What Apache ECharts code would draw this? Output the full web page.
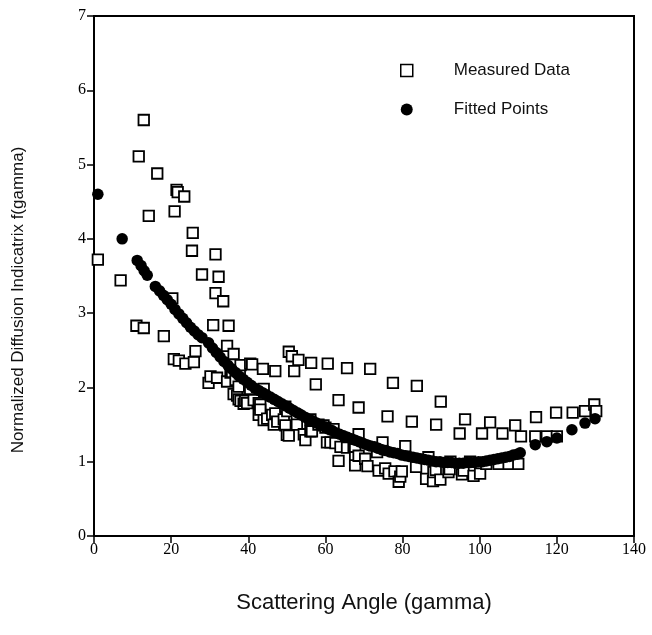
<!DOCTYPE html>
<html><head><meta charset="utf-8">
<script src="https://cdn.jsdelivr.net/npm/echarts@6/dist/echarts.min.js"></script>
<style>html,body{margin:0;padding:0;background:#fff}#c{width:652px;height:635px}</style>
</head><body><div id="c"></div>
<script>
const xTicks = [0,20,40,60,80,100,120,140];
const yTicks = [0,1,2,3,4,5,6,7];
const seriesNames = ['Measured Data','Fitted Points'];
const xTitle = 'Scattering Angle (gamma)';
const yTitle = 'Normalized Diffusion Indicatrix f(gamma)';

const measured = [
[1.0,3.72],[6.9,3.44],[11,2.83],[11.6,5.11],[12.9,5.6],[12.9,2.8],[14.2,4.31],[16.4,4.88],[18.1,2.69],[20.3,3.2],
[20.7,2.38],[20.9,4.37],[21.4,4.66],[21.7,4.63],[22,2.36],[23.4,4.57],[23.7,2.32],[25.4,3.84],[25.6,4.08],[25.9,2.34],
[26.3,2.49],[28,3.52],[29.7,2.06],[30.2,2.15],[30.9,2.84],[31.5,3.79],[31.5,3.27],[31.9,2.13],[32.3,3.49],[33.5,3.16],
[34.5,2.08],[34.5,2.56],[34.9,2.83],[35.4,2.2],[35.8,2.21],[36.2,2.45],[36.2,1.91],[36.7,2.1],[37.1,1.89],[37.5,2.01],
[37.5,1.84],[37.8,2.19],[38,2.3],[38,1.82],[38.8,1.78],[39.2,1.82],[39.7,1.79],[40.5,1.98],[40.5,2.32],[41,2.31],
[41.4,1.83],[42.7,1.63],[42.7,1.79],[43.1,1.77],[43.1,1.7],[43.8,2.25],[44,1.98],[44,1.56],[44.9,1.58],[46.2,1.63],
[46.6,1.5],[47,2.22],[47,1.65],[47.5,1.54],[49.2,1.57],[49.6,1.74],[49.6,1.49],[50.1,1.68],[50,1.36],[50.5,2.48],
[50.5,1.35],[51.3,2.42],[51.9,2.22],[52.6,1.62],[52.6,1.5],[53,2.37],[54.4,1.37],[54.8,1.29],[56.1,1.57],[56.1,1.41],
[56.3,2.33],[56.5,1.41],[57.5,2.04],[58.2,1.5],[59.5,1.49],[60,1.46],[60.4,1.26],[60.6,2.32],[61.3,1.26],[62.1,1.44],
[62.6,1.25],[63.4,1.83],[63.4,1.01],[63.9,1.2],[65.6,2.26],[65.6,1.19],[67.3,1.21],[67.7,1.17],[67.7,1.06],[67.7,0.95],
[68.6,1.73],[68.6,1.37],[68.6,1.08],[70.3,1.04],[70.9,0.94],[71.6,2.25],[73.4,1.13],[73.8,0.88],[74.8,1.26],[75.5,0.91],
[76.1,1.61],[76.4,0.84],[77.5,2.06],[77.9,0.87],[79,0.73],[79.4,0.8],[79.8,0.87],[80.7,1.21],[82.4,1.54],[83.5,0.93],
[83.7,2.02],[86.1,0.77],[86.7,1.06],[87.9,0.74],[88,0.86],[88.6,0.89],[88.7,1.5],[89.8,0.76],[89.9,1.81],[91.9,0.86],
[92.2,0.9],[92.4,1.0],[94.8,1.38],[95.4,0.83],[95.8,0.88],[96.2,1.57],[97.5,1.0],[98.4,0.81],[100.1,0.84],[100.6,1.38],
[101.7,0.97],[102.7,1.53],[104.9,0.97],[105.9,1.38],[107.5,0.97],[109.2,1.49],[110,0.97],[110.7,1.34],[114.4,1.34],[114.6,1.6],
[117.4,1.34],[119.8,1.66],[120,1.34],[124.1,1.66],[127.3,1.68],[129.7,1.77],[130.2,1.68]
];

const fitted = [
[1,4.6],[7.3,4.0],[11.2,3.71],[12.2,3.64],[13,3.57],[13.8,3.51],[15.9,3.36],[17,3.3],[18,3.24],[19,3.18],
[20,3.12],[21,3.05],[22,2.99],[23,2.93],[24,2.87],[25,2.81],[26,2.76],[27,2.71],[28,2.67],[29.7,2.6],
[30.7,2.53],[31.7,2.47],[32.7,2.41],[33.7,2.35],[34.7,2.3],[35.7,2.25],[36.7,2.2],[37.7,2.15],[38.7,2.11],[39.7,2.07],
[40.7,2.03],[41.7,1.99],[42.7,1.96],[43.7,1.93],[44.7,1.9],[45.7,1.87],[46.7,1.84],[47.7,1.81],[48.7,1.78],[49.7,1.75],
[50.7,1.72],[51.7,1.69],[52.7,1.66],[53.7,1.63],[54.7,1.6],[55.7,1.57],[56.7,1.55],[57.7,1.52],[58.7,1.49],[59.7,1.47],
[60.7,1.44],[61.7,1.42],[62.7,1.39],[63.7,1.37],[64.7,1.35],[65.7,1.33],[66.7,1.31],[67.7,1.29],[68.7,1.27],[69.7,1.25],
[70.7,1.23],[71.7,1.21],[72.7,1.2],[73.7,1.18],[74.7,1.16],[75.7,1.15],[76.7,1.13],[77.7,1.12],[78.7,1.11],[79.7,1.09],
[80.7,1.08],[81.7,1.07],[82.7,1.06],[83.7,1.05],[84.7,1.04],[85.7,1.03],[86.7,1.02],[87.7,1.01],[88.7,1.0],[89.7,1.0],
[90.7,0.99],[91.7,0.99],[92.7,0.99],[93.7,0.98],[94.7,0.98],[95.7,0.98],[96.7,0.99],[97.7,0.99],[98.7,0.99],[99.7,1.0],
[100.7,1.0],[101.7,1.01],[102.7,1.02],[103.7,1.03],[104.7,1.04],[105.7,1.05],[106.7,1.06],[107.7,1.07],[108.7,1.09],[109.7,1.1],
[110.5,1.12],[114.4,1.23],[117.4,1.27],[120,1.32],[123.9,1.43],[127.3,1.52],[129.9,1.58]
];

const chart = echarts.init(document.getElementById('c'), null, {renderer:'canvas'});
const axisLine = {show:true, onZero:false, lineStyle:{color:'#000', width:2}};
chart.setOption({
  backgroundColor:'#fff',
  animation:false,
  grid:{left:94, right:18, top:16, bottom:99, show:true, borderColor:'#000', borderWidth:2, backgroundColor:'transparent'},
  legend:{
    orient:'vertical', left:395, top:57, itemGap:22, itemWidth:12, itemHeight:12,
    data:[
      {name:seriesNames[0], icon:'rect', itemStyle:{color:'#fff', borderColor:'#000', borderWidth:1.5}},
      {name:seriesNames[1], icon:'circle', itemStyle:{color:'#000'}}
    ],
    textStyle:{fontFamily:'Liberation Sans', fontSize:17, color:'#111', padding:[0,0,0,36]}
  },
  graphic:[{
    type:'text', x:18, y:300, rotation:Math.PI/2,
    style:{text:yTitle, fontFamily:'Liberation Sans', fontSize:17, fill:'#111', align:'center', verticalAlign:'middle'}
  }],
  xAxis:{
    type:'value', min:xTicks[0], max:xTicks[xTicks.length-1], interval:20,
    axisLine:axisLine, splitLine:{show:false},
    axisTick:{show:true, inside:false, length:7, lineStyle:{color:'#000', width:1.5}},
    axisLabel:{color:'#000', fontFamily:'Liberation Serif', fontSize:16, margin:6},
    name:xTitle, nameLocation:'middle', nameGap:56,
    nameTextStyle:{fontFamily:'Liberation Sans', fontSize:22, color:'#111'}
  },
  yAxis:{
    type:'value', min:yTicks[0], max:yTicks[yTicks.length-1], interval:1,
    axisLine:axisLine, splitLine:{show:false},
    axisTick:{show:true, inside:false, length:7, lineStyle:{color:'#000', width:1.5}},
    axisLabel:{color:'#000', fontFamily:'Liberation Serif', fontSize:16, margin:8}
  },
  series:[
    {name:seriesNames[0], type:'scatter', data:measured, symbol:'rect', symbolSize:10.5,
     itemStyle:{color:'#fff', borderColor:'#000', borderWidth:1.8, opacity:1}, z:2},
    {name:seriesNames[1], type:'scatter', data:fitted, symbol:'circle', symbolSize:11.5,
     itemStyle:{color:'#000', opacity:1}, z:3}
  ]
});
</script></body></html>
